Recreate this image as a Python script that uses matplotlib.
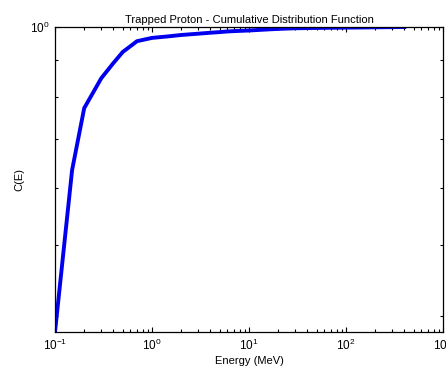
import matplotlib
matplotlib.use("Agg")
import matplotlib.pyplot as plt
from matplotlib.ticker import LogLocator, NullFormatter, FixedLocator

plt.rcParams["font.family"] = ["Liberation Sans", "DejaVu Sans"]
plt.rcParams["mathtext.fontset"] = "custom"
plt.rcParams["mathtext.rm"] = "Liberation Sans"
plt.rcParams["mathtext.it"] = "Liberation Sans"

# Energy (MeV) and cumulative distribution values
energy = [0.1, 0.15, 0.2, 0.3, 0.4, 0.5, 0.6, 0.7, 1, 1.5, 2, 3, 4, 5, 6, 7,
          10, 15, 20, 30, 50, 70, 100, 150, 200, 300, 400]
cdf = [0.380, 0.635, 0.773, 0.850, 0.892, 0.924, 0.941, 0.956, 0.966, 0.971,
       0.975, 0.979, 0.982, 0.984, 0.986, 0.987, 0.989, 0.992, 0.994, 0.996,
       0.997, 0.9975, 0.998, 0.9985, 0.999, 0.9995, 1.0]

fig = plt.figure(figsize=(4.46, 3.73), dpi=100)
ax = fig.add_axes([55 / 446, 1 - 332 / 373, 388 / 446, 305 / 373])

ax.plot(energy, cdf, color="#0000ee", linewidth=2.8, solid_joinstyle="round")

ax.set_xscale("log")
ax.set_yscale("log")
ax.set_xlim(0.1, 1000)
ax.set_ylim(0.38, 1.0)

ax.xaxis.set_major_locator(LogLocator(base=10, numticks=10))
ax.xaxis.set_minor_locator(LogLocator(base=10, subs=range(2, 10), numticks=10))
ax.xaxis.set_minor_formatter(NullFormatter())
ax.yaxis.set_major_locator(FixedLocator([1.0]))
ax.yaxis.set_major_formatter(plt.FuncFormatter(lambda v, p: r"$10^{0}$"))
ax.yaxis.set_minor_locator(FixedLocator([0.4, 0.5, 0.6, 0.7, 0.8, 0.9]))
ax.yaxis.set_minor_formatter(NullFormatter())

ax.tick_params(which="both", direction="in", top=True, right=True,
               labelsize=8.5, width=0.8, colors="black")
ax.tick_params(which="major", length=3.5, pad=4)
ax.tick_params(which="minor", length=2.2)
for s in ax.spines.values():
    s.set_linewidth(0.9)

ax.set_title("Trapped Proton - Cumulative Distribution Function", fontsize=8, pad=3)
ax.set_xlabel("Energy (MeV)", fontsize=8, labelpad=2)
ax.set_ylabel("C(E)", fontsize=8, labelpad=4)

fig.savefig("out.png", dpi=100)
